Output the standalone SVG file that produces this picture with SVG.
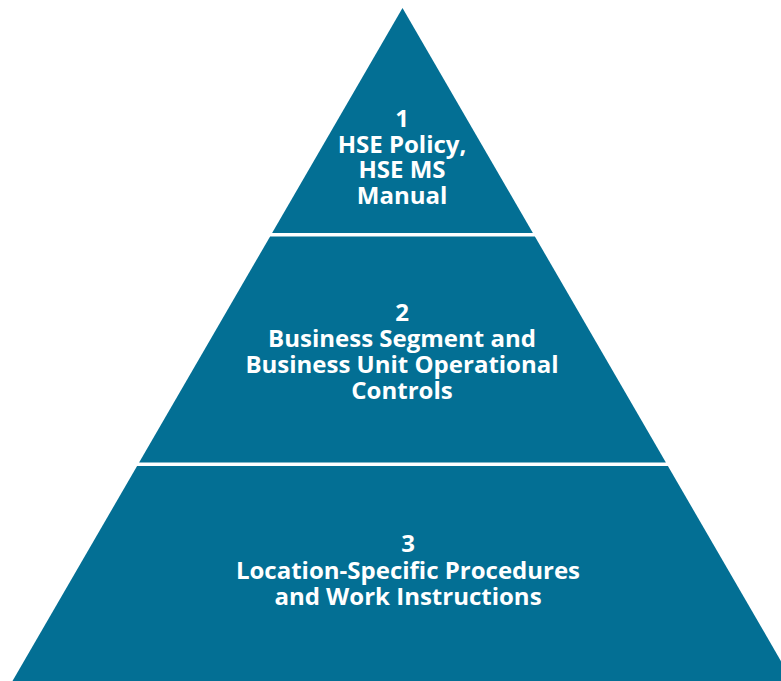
<svg xmlns="http://www.w3.org/2000/svg" width="781" height="681" viewBox="0 0 781 681">
<style>
.band{fill:#036f94}
.lbl{font-family:"Open Sans","Liberation Sans",sans-serif;font-weight:bold;font-size:24px;fill:#ffffff;text-anchor:middle;font-variant-ligatures:none}
</style>
<rect width="781" height="681" fill="#ffffff"/>
<g id="level1">
<polygon class="band" points="402.5,8 532.9,233 272.1,233"/>
<text class="lbl" x="402" y="126.5">1</text>
<text class="lbl" x="402" y="152.5">HSE Policy,</text>
<text class="lbl" x="402" y="178">HSE MS</text>
<text class="lbl" x="402" y="203.5">Manual</text>
</g>
<g id="level2">
<polygon class="band" points="270.1,236.5 534.9,236.5 665.9,462.5 139.1,462.5"/>
<text class="lbl" x="402" y="320.5">2</text>
<text class="lbl" x="402" y="346.5">Business Segment and</text>
<text class="lbl" x="402" y="373">Business Unit Operational</text>
<text class="lbl" x="402" y="398.5">Controls</text>
</g>
<g id="level3">
<polygon class="band" points="137.1,466 667.9,466 792.5,681 12.5,681"/>
<text class="lbl" x="408" y="552">3</text>
<text class="lbl" x="408" y="578.5">Location-Specific Procedures</text>
<text class="lbl" x="408" y="605">and Work Instructions</text>
</g>
<g id="connectors"/>
</svg>
